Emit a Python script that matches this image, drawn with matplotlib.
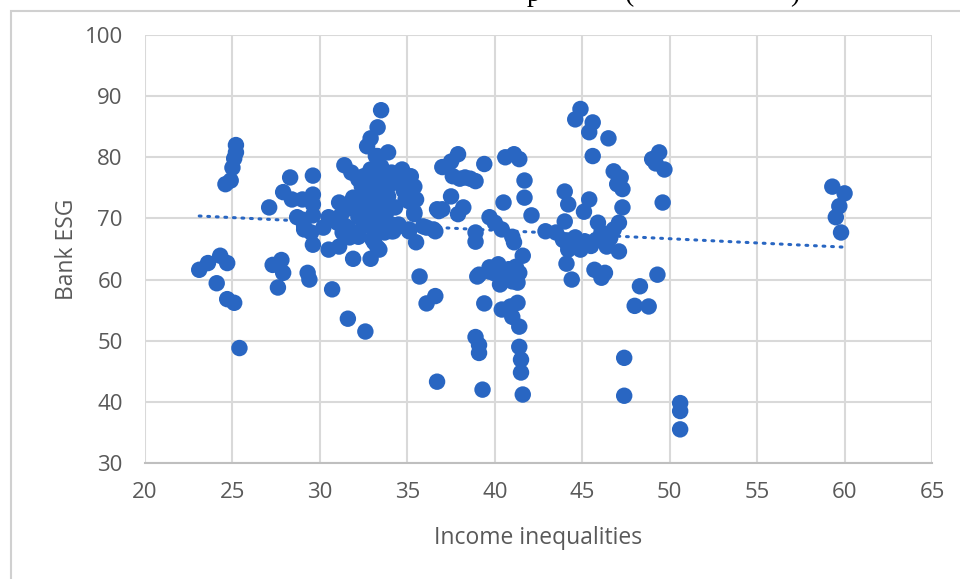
import numpy as np
import matplotlib
matplotlib.use("Agg")
import matplotlib.pyplot as plt
from matplotlib.patches import Rectangle

# ---- data ----
income_ineq = [
    23.1, 23.6, 24.3, 24.7, 24.1, 24.7, 25.1, 25.4, 24.6, 24.9, 25.0, 25.1, 25.2, 25.2,
    27.1, 27.3, 27.8, 27.9, 27.6, 27.9, 28.3, 28.4, 29.0, 29.6, 29.6, 29.6, 28.7, 29.1, 29.1, 29.5, 29.6, 29.3, 29.4, 29.6, 29.0,
    30.2, 30.5, 30.5, 30.7, 31.1, 31.1, 31.3, 31.0, 31.4, 31.8, 31.9, 31.9, 31.6, 31.5, 31.7, 31.9, 31.2, 31.5,
    32.6, 32.9, 32.2, 32.5, 32.7, 32.6, 32.1, 32.2, 32.2, 32.7, 32.7, 32.5, 32.2, 33.3, 33.1, 33.0, 33.3, 33.4,
    32.9, 33.3, 33.5, 33.3, 33.6, 33.4, 33.6, 33.0, 33.3, 32.6, 33.5, 33.0, 32.4, 33.5, 33.3, 32.9, 32.7, 33.9,
    33.2, 33.0, 33.5, 33.9, 32.8, 33.8, 33.1, 32.4, 33.7,
    34.1, 34.7, 35.0, 35.2, 35.4, 35.5, 35.1, 34.9, 35.4, 35.4, 35.5, 34.5, 34.5, 34.1, 34.2, 35.1, 35.1, 35.9,
    36.1, 36.5, 36.6, 36.7, 36.8, 34.3, 34.1, 34.0, 34.6, 35.7, 36.1, 36.6, 36.7, 34.8,
    37.0, 37.5, 37.9, 37.6, 38.3, 38.9, 39.4, 37.5, 38.2, 37.9, 37.0, 38.9, 38.9, 39.7, 40.0, 39.1, 39.0, 39.7,
    39.7, 38.9, 39.1, 39.1, 39.3, 39.4, 38.6, 38.0,
    40.2, 40.3, 40.8, 40.8, 41.2, 41.3, 41.4, 41.6, 40.4, 40.9, 41.3, 41.0, 41.4, 41.4, 41.5, 41.5, 41.6,
    40.6, 41.1, 41.4, 41.7, 41.7, 42.1, 40.5, 40.4, 41.0, 41.1, 40.0, 40.5, 41.0,
    42.9, 43.5, 44.0, 44.0, 44.2, 44.1, 44.6, 45.2, 44.2, 44.9, 44.1, 44.4, 44.9, 44.6, 45.6, 45.4, 46.5, 45.6,
    46.8, 47.2, 47.0, 47.3, 47.3, 47.1, 46.8, 45.4, 45.1, 45.9, 46.1, 46.4, 47.1, 45.7, 46.3, 46.1, 44.4, 45.5,
    45.8, 46.6, 44.8, 43.9,
    49.4, 49.0, 49.7, 49.6, 49.3, 48.3, 48.0, 48.8, 47.4, 47.4, 50.6, 50.6, 50.6, 49.2,
    59.3, 60.0, 59.7, 59.5, 59.8,
]
bank_esg = [
    61.6, 62.7, 63.9, 62.7, 59.4, 56.8, 56.2, 48.8, 75.6, 76.2, 78.3, 79.8, 80.8, 82.0,
    71.8, 62.4, 63.2, 61.1, 58.7, 74.3, 76.7, 73.1, 73.1, 77.0, 73.9, 72.3, 70.2, 68.7, 68.2, 67.7, 65.7, 61.1, 60.0, 70.5, 69.8,
    68.5, 70.2, 64.9, 58.4, 72.6, 65.4, 67.7, 69.3, 78.7, 77.5, 73.4, 63.4, 53.6, 68.7, 66.9, 67.7, 70.5, 71.5,
    51.5, 63.4, 76.4, 76.9, 76.7, 74.8, 71.5, 70.3, 71.0, 69.3, 70.3, 68.7, 67.0, 69.3, 66.1, 66.6, 65.2, 64.9,
    78.0, 80.2, 78.5, 78.4, 76.0, 73.6, 72.0, 72.6, 72.0, 73.1, 74.4, 75.2, 75.2, 87.7, 84.9, 83.1, 81.8, 80.8,
    80.2, 77.2, 70.3, 73.6, 71.5, 71.0, 68.2, 72.3, 67.7,
    77.5, 78.0, 76.7, 76.9, 75.2, 73.1, 72.8, 73.1, 71.0, 70.7, 66.1, 68.7, 69.0, 67.9, 67.9, 68.2, 67.9, 68.7,
    68.5, 68.2, 67.9, 71.5, 71.2, 71.8, 69.0, 75.5, 76.0, 60.5, 56.1, 57.3, 43.3, 74.5,
    78.4, 79.3, 80.5, 76.9, 76.7, 76.1, 78.9, 73.6, 71.8, 70.7, 71.5, 67.7, 66.2, 70.2, 69.3, 60.8, 60.5, 61.3,
    62.0, 50.6, 49.3, 48.0, 42.0, 56.1, 76.5, 76.5,
    62.5, 59.2, 60.8, 61.7, 62.1, 59.5, 61.1, 63.9, 55.1, 55.6, 56.2, 53.9, 52.3, 49.0, 46.9, 44.8, 41.2,
    80.0, 80.5, 79.7, 76.2, 73.4, 70.5, 72.6, 68.2, 67.0, 66.1, 61.0, 60.0, 59.7,
    67.9, 67.7, 69.5, 74.4, 72.3, 66.1, 66.9, 66.2, 64.9, 64.9, 62.6, 60.0, 87.9, 86.2, 85.7, 84.1, 83.1, 80.2,
    77.7, 76.7, 75.6, 74.8, 71.8, 69.3, 68.2, 73.1, 71.1, 69.3, 67.7, 65.4, 64.6, 61.6, 61.1, 60.3, 65.5, 65.5,
    66.5, 66.8, 65.8, 66.5,
    80.8, 79.7, 78.0, 72.6, 60.8, 58.9, 55.7, 55.6, 47.2, 41.0, 39.8, 38.5, 35.5, 79.0,
    75.2, 74.1, 72.0, 70.2, 67.7,
]
# linear trend line as drawn in the picture (start / end)
trend_x = [23.1, 60.0]
trend_y = [70.4, 65.3]

x_ticks = [20, 25, 30, 35, 40, 45, 50, 55, 60, 65]
y_ticks = [30, 40, 50, 60, 70, 80, 90, 100]

BLUE = "#2966C2"
GRID = "#D9D9D9"
TXT = "#595959"

plt.rcParams["font.family"] = ["Open Sans", "DejaVu Sans"]

fig = plt.figure(figsize=(9.6, 5.79), dpi=100)
W, H = 960, 579
ax = fig.add_axes([145 / W, 1 - 463 / H, (932 - 145) / W, (463 - 35) / H])

ax.scatter(income_ineq, bank_esg, s=140, color=BLUE, edgecolors="none", zorder=3)

ax.plot(trend_x, trend_y, color=BLUE, lw=2.2, linestyle=(0, (0.6, 2.2)),
        dash_capstyle="round", zorder=2)

ax.set_xlim(20, 65)
ax.set_ylim(30, 100)
ax.set_xticks(x_ticks)
ax.set_yticks(y_ticks)
ax.grid(True, color=GRID, lw=1.5, zorder=0)
for s in ["top", "right", "left"]:
    ax.spines[s].set_visible(False)
ax.spines["bottom"].set_color("#BFBFBF")
ax.spines["bottom"].set_linewidth(1.5)
ax.tick_params(length=0, labelsize=16, colors=TXT)
ax.tick_params(axis="x", pad=14)
ax.tick_params(axis="y", pad=16)

ax.set_xlabel("Income inequalities", fontsize=16.5, color=TXT, labelpad=16)
ax.set_ylabel("Bank ESG", fontsize=16.5, color=TXT, labelpad=4)

# chart area border (partially visible)
fig.add_artist(Rectangle((11 / W, -0.05), 1.2, 1 - 11 / H + 0.05, transform=fig.transFigure,
                         fill=False, edgecolor="#D0D0D0", lw=1.5))

# cut-off document caption above the chart (only descenders visible)
for cx, ch in [(527, "p"), (625, "("), (790, ")")]:
    fig.text(cx / W, 1 - 1.0 / H, ch, fontsize=20, family="Liberation Serif",
             color="black", ha="left", va="baseline")

fig.savefig("out.png", dpi=100)
